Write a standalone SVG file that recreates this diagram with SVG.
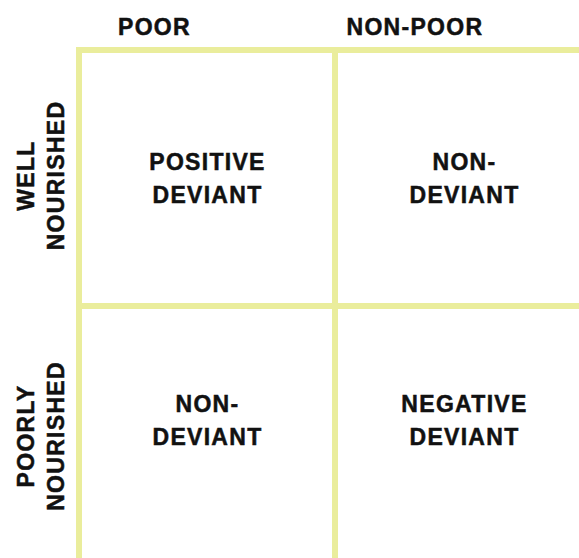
<svg xmlns="http://www.w3.org/2000/svg" width="579" height="558" viewBox="0 0 579 558">
  <style>
    .grid { stroke: #eaed9c; stroke-width: 6; fill: none; stroke-linecap: butt; }
    .lbl { font-family: "Liberation Sans", Arial, sans-serif; font-weight: bold; font-size: 23px; fill: #111111; stroke: #111111; stroke-width: 0.5px; letter-spacing: 1.3px; }
    .mid { text-anchor: middle; }
  </style>
  <rect width="579" height="558" fill="#ffffff"/>
  <g id="connectors">
    <path class="grid" d="M76,50 H579"/>
    <path class="grid" d="M79,47 V558"/>
    <path class="grid" d="M335,47 V558"/>
    <path class="grid" d="M79,306 H579"/>
  </g>
  <g id="col-poor"><text class="lbl" x="118" y="35">POOR</text></g>
  <g id="col-nonpoor"><text class="lbl" x="346.5" y="35">NON-POOR</text></g>
  <g id="row-well">
    <text class="lbl mid" transform="translate(33.5,175.5) rotate(-90)">WELL</text>
    <text class="lbl mid" transform="translate(63.5,175.5) rotate(-90)">NOURISHED</text>
  </g>
  <g id="row-poorly">
    <text class="lbl mid" transform="translate(33.5,436) rotate(-90)">POORLY</text>
    <text class="lbl mid" transform="translate(63.5,436) rotate(-90)">NOURISHED</text>
  </g>
  <g id="cell-positive-deviant">
    <text class="lbl mid" x="207.5" y="170">POSITIVE</text>
    <text class="lbl mid" x="207.5" y="203">DEVIANT</text>
  </g>
  <g id="cell-non-deviant-top">
    <text class="lbl mid" x="464.5" y="170">NON-</text>
    <text class="lbl mid" x="464.5" y="203">DEVIANT</text>
  </g>
  <g id="cell-non-deviant-bottom">
    <text class="lbl mid" x="207.5" y="411.5">NON-</text>
    <text class="lbl mid" x="207.5" y="444.5">DEVIANT</text>
  </g>
  <g id="cell-negative-deviant">
    <text class="lbl mid" x="464.5" y="411.5">NEGATIVE</text>
    <text class="lbl mid" x="464.5" y="444.5">DEVIANT</text>
  </g>
</svg>
